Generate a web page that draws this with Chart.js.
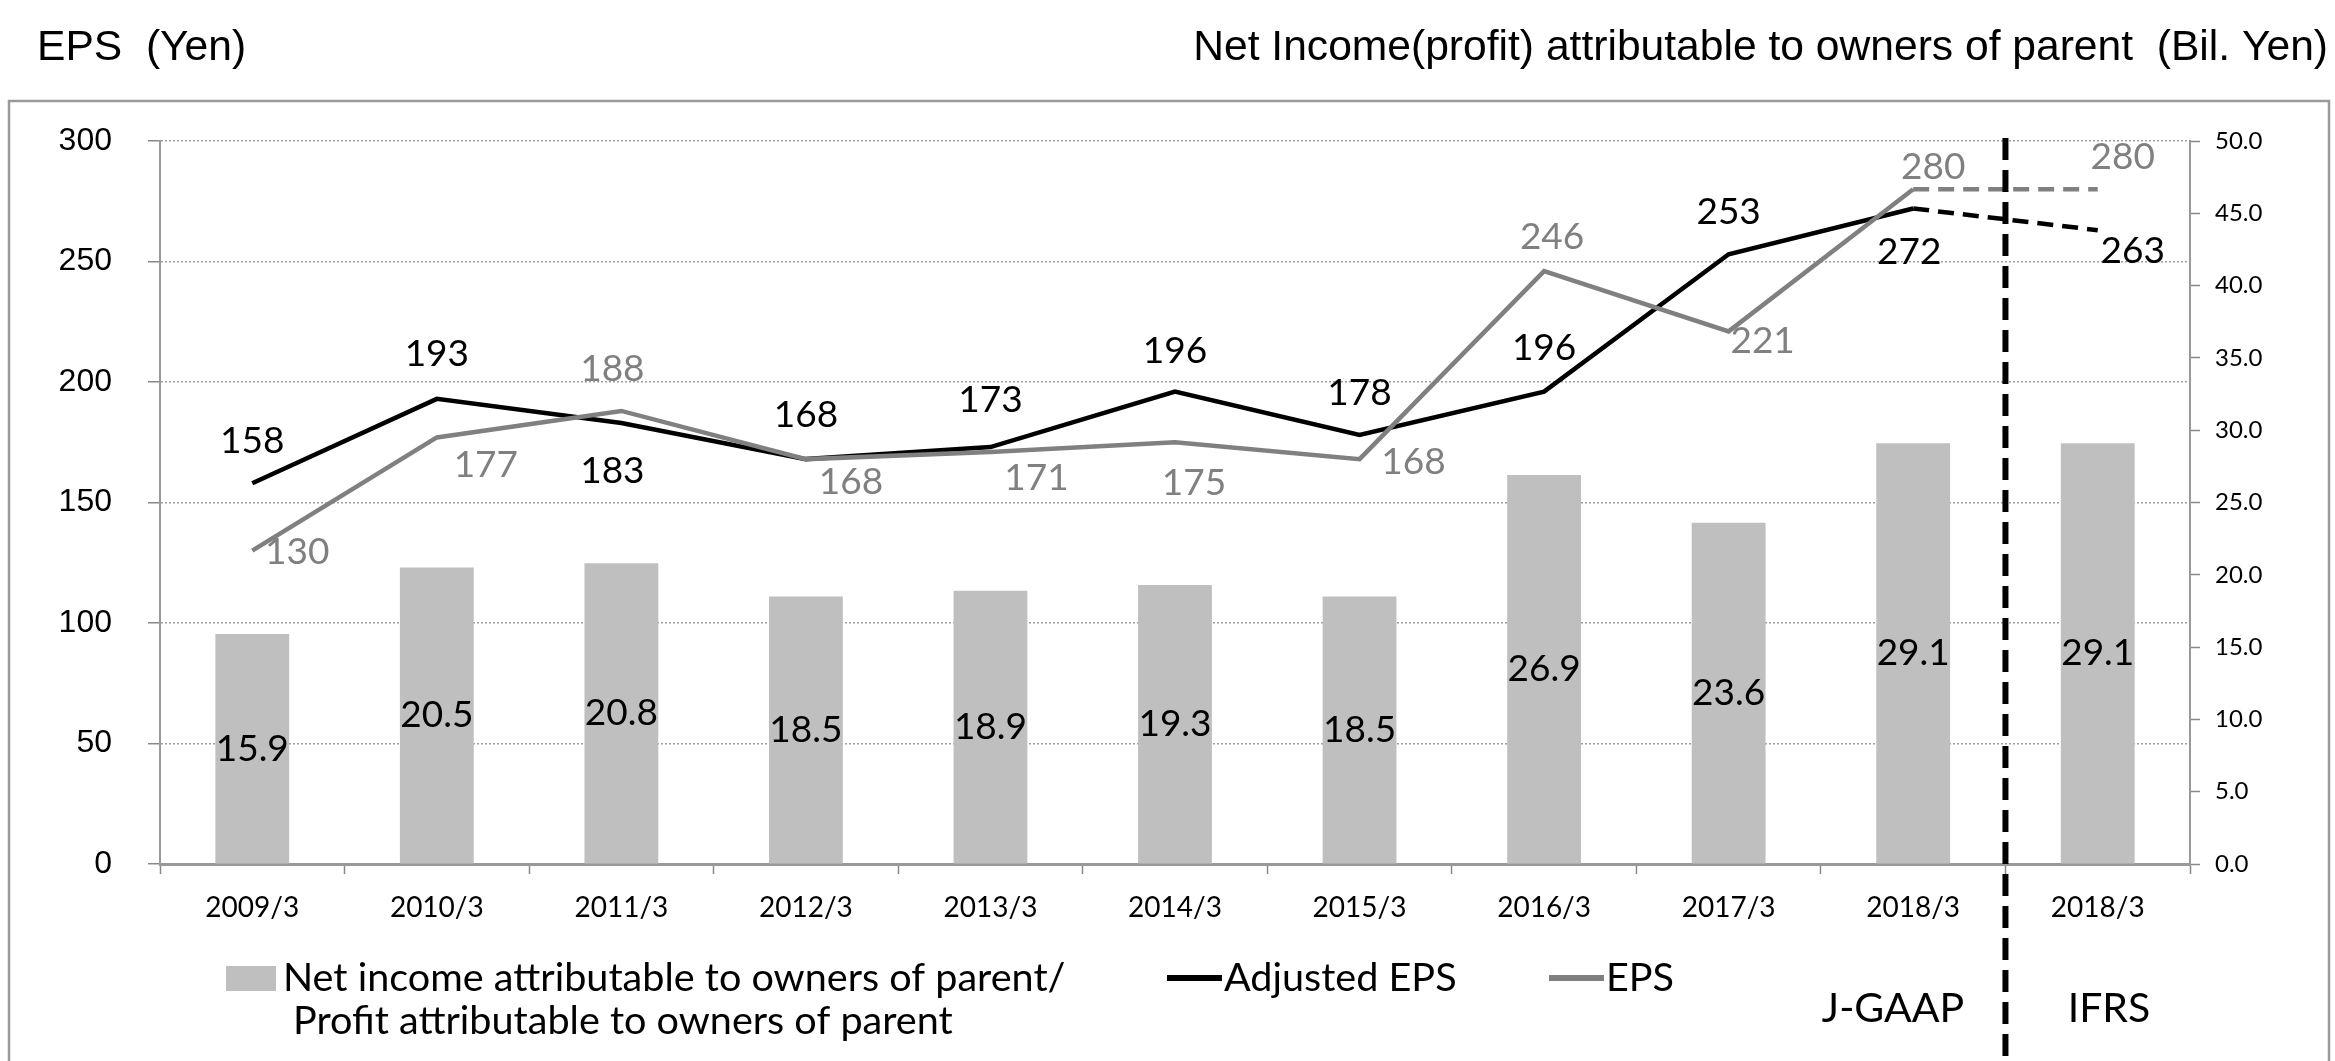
<!DOCTYPE html>
<html>
<head>
<meta charset="utf-8">
<script src="https://cdn.jsdelivr.net/npm/chart.js@4.4.1/dist/chart.umd.min.js"></script>
<style>
  html, body { margin: 0; padding: 0; background: #fff; }
  canvas { display: block; }
</style>
</head>
<body>
<canvas id="myChart" width="2335" height="1061"></canvas>
<script>
const categories = ['2009/3','2010/3','2011/3','2012/3','2013/3','2014/3','2015/3','2016/3','2017/3','2018/3','2018/3'];
const netIncome = [15.9, 20.5, 20.8, 18.5, 18.9, 19.3, 18.5, 26.9, 23.6, 29.1, 29.1];
const adjustedEps = [158, 193, 183, 168, 173, 196, 178, 196, 253, 272, 263];
const eps = [130, 177, 188, 168, 171, 175, 168, 246, 221, 280, 280];
const epsTicks = [0, 50, 100, 150, 200, 250, 300];
const incomeTicks = [0, 5, 10, 15, 20, 25, 30, 35, 40, 45, 50];

// label offsets from each point (dx, dy), placement only
const adjLabelPos = [[0,-42],[0,-45],[-9,48],[0,-44],[0,-47],[0,-41],[0,-42],[0,-44],[0,-42],[-4,44],[35,21]];
const epsLabelPos = [[45,1],[49,28],[-9,-42],[45,23],[46,26],[19,41],[54,3],[8,-34],[34,10],[20,-22],[25,-32]];

const labelFont = '37px Lato';
const GRAY = '#808080';

const extras = {
  id: 'extras',
  beforeDraw(chart) {
    const ctx = chart.ctx;
    ctx.save();
    ctx.strokeStyle = '#9a9a9a';
    ctx.lineWidth = 2.5;
    ctx.strokeRect(9, 101, 2320, 1100);
    ctx.restore();
  },
  afterDatasetsDraw(chart) {
    const ctx = chart.ctx;
    ctx.save();
    ctx.font = labelFont;
    ctx.textAlign = 'center';
    ctx.textBaseline = 'middle';

    // bar values in the middle of each bar
    ctx.fillStyle = '#000';
    chart.getDatasetMeta(0).data.forEach((bar, i) => {
      ctx.fillText(netIncome[i].toFixed(1), bar.x, (bar.y + bar.base) / 2);
    });

    chart.getDatasetMeta(1).data.forEach((pt, i) => {
      ctx.fillStyle = '#000';
      ctx.fillText(String(adjustedEps[i]), pt.x + adjLabelPos[i][0], pt.y + adjLabelPos[i][1]);
    });
    chart.getDatasetMeta(2).data.forEach((pt, i) => {
      ctx.fillStyle = GRAY;
      ctx.fillText(String(eps[i]), pt.x + epsLabelPos[i][0], pt.y + epsLabelPos[i][1]);
    });
    ctx.restore();
  },
  afterDraw(chart) {
    const ctx = chart.ctx;
    const x = chart.scales.x;
    ctx.save();

    // axis titles
    ctx.fillStyle = '#000';
    ctx.font = '42.6px "Liberation Sans"';
    ctx.textBaseline = 'middle';
    ctx.textAlign = 'left';
    ctx.fillText('EPS  (Yen)', 37, 48);
    ctx.textAlign = 'right';
    ctx.fillText('Net Income(profit) attributable to owners of parent  (Bil. Yen)', 2328, 48);

    // J-GAAP / IFRS divider
    const divX = (x.getPixelForValue(9) + x.getPixelForValue(10)) / 2;
    ctx.strokeStyle = '#000';
    ctx.lineWidth = 6;
    ctx.setLineDash([22, 10]);
    ctx.beginPath();
    ctx.moveTo(divX, 138);
    ctx.lineTo(divX, 1061);
    ctx.stroke();
    ctx.setLineDash([]);

    // legend
    ctx.textAlign = 'left';
    ctx.font = '39.6px Lato';
    ctx.fillStyle = '#bfbfbf';
    ctx.fillRect(226, 966, 50, 25);
    ctx.fillStyle = '#000';
    ctx.fillText('Net income attributable to owners of parent/', 283, 978);
    ctx.fillText('Profit attributable to owners of parent', 293, 1021);

    ctx.lineWidth = 6;
    ctx.strokeStyle = '#000';
    ctx.beginPath(); ctx.moveTo(1167, 978); ctx.lineTo(1222, 978); ctx.stroke();
    ctx.fillText('Adjusted EPS', 1224, 978);

    ctx.strokeStyle = GRAY;
    ctx.beginPath(); ctx.moveTo(1549, 978); ctx.lineTo(1604, 978); ctx.stroke();
    ctx.fillStyle = '#000';
    ctx.fillText('EPS', 1606, 978);

    ctx.font = '41px Lato';
    ctx.textAlign = 'center';
    ctx.fillText('J-GAAP', 1893, 1009);
    ctx.fillText('IFRS', 2109, 1009);
    ctx.restore();
  }
};

const dashLast = (pattern) => (c) => c.p1DataIndex === 10 ? pattern : undefined;

new Chart(document.getElementById('myChart').getContext('2d'), {
  data: {
    labels: categories,
    datasets: [
      {
        type: 'bar',
        label: 'Net income attributable to owners of parent/ Profit attributable to owners of parent',
        data: netIncome,
        yAxisID: 'y1',
        backgroundColor: '#bfbfbf',
        barPercentage: 0.4,
        categoryPercentage: 1,
        order: 3
      },
      {
        type: 'line',
        label: 'Adjusted EPS',
        data: adjustedEps,
        yAxisID: 'y',
        borderColor: '#000',
        borderWidth: 4.5,
        pointRadius: 0,
        tension: 0,
        segment: { borderDash: dashLast([16, 9]) },
        order: 2
      },
      {
        type: 'line',
        label: 'EPS',
        data: eps,
        yAxisID: 'y',
        borderColor: GRAY,
        borderWidth: 4.5,
        pointRadius: 0,
        tension: 0,
        segment: { borderDash: dashLast([16, 9]) },
        order: 1
      }
    ]
  },
  options: {
    responsive: false,
    animation: false,
    devicePixelRatio: 1,
    layout: { padding: { top: 141, left: 0, right: 0, bottom: 0 } },
    plugins: { legend: { display: false }, tooltip: { enabled: false } },
    scales: {
      x: {
        offset: true,
        grid: { offset: true, drawOnChartArea: false, drawTicks: true, tickLength: 10, tickColor: '#888', tickWidth: 1.5 },
        border: { color: '#999', width: 3 },
        ticks: { color: '#000', font: { family: 'Lato', size: 28 }, padding: 17, autoSkip: false, maxRotation: 0 },
        afterFit: s => { s.height = 197; }
      },
      y: {
        position: 'left',
        min: 0, max: 300,
        afterBuildTicks: s => { s.ticks = epsTicks.map(v => ({ value: v })); },
        grid: { color: '#a0a0a0', lineWidth: 1.5, drawTicks: true, tickLength: 12, tickColor: '#888', tickWidth: 1.5 },
        border: { color: '#999', width: 2, dash: [2, 2] },
        ticks: { color: '#000', font: { family: 'Liberation Sans', size: 32 }, padding: 36 },
        afterFit: s => { s.width = 160; }
      },
      y1: {
        position: 'right',
        min: 0, max: 50,
        afterBuildTicks: s => { s.ticks = incomeTicks.map(v => ({ value: v })); },
        grid: { drawOnChartArea: false, drawTicks: true, tickLength: 10, tickColor: '#888', tickWidth: 1.5 },
        border: { color: '#999', width: 2 },
        ticks: { color: '#000', font: { family: 'Lato', size: 24 }, padding: 15, callback: v => Number(v).toFixed(1) },
        afterFit: s => { s.width = 145; }
      }
    }
  },
  plugins: [extras]
});
</script>
</body>
</html>
